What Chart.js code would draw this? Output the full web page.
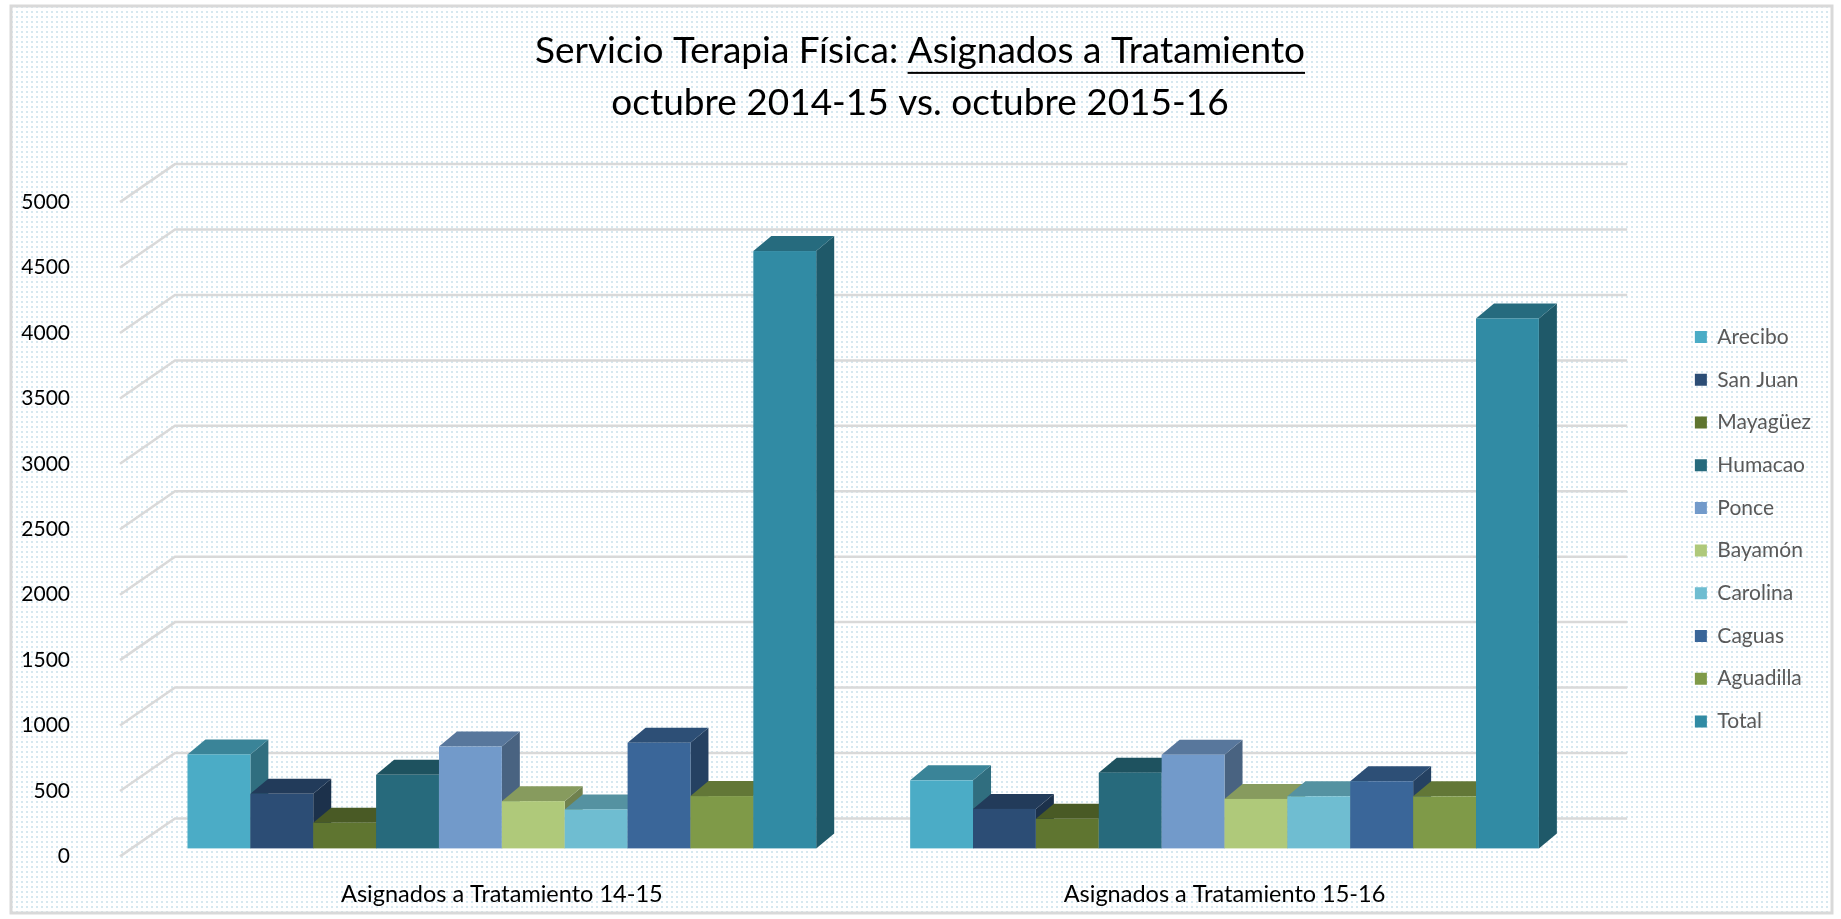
<!DOCTYPE html>
<html>
<head>
<meta charset="utf-8">
<script src="https://cdn.jsdelivr.net/npm/chart.js@4/dist/chart.umd.min.js"></script>
<style>
  html, body { margin: 0; padding: 0; background: #fff; }
</style>
</head>
<body>
<canvas id="myChart" width="1841" height="919"></canvas>
<script>
// categories on the x axis
const categories = ["Asignados a Tratamiento 14-15", "Asignados a Tratamiento 15-16"];

// one series per region (plus the total)
const regions = ["Arecibo", "San Juan", "Mayagüez", "Humacao", "Ponce", "Bayamón", "Carolina", "Caguas", "Aguadilla", "Total"];

// values, in the same order as regions
const asignados1415 = [718, 417, 196, 562, 778, 361, 298, 807, 400, 4565];
const asignados1516 = [520, 302, 226, 579, 716, 378, 398, 513, 398, 4050];

// value axis
const yTicks = [0, 500, 1000, 1500, 2000, 2500, 3000, 3500, 4000, 4500, 5000];

const colors = ["#4BACC6", "#2C4D75", "#5F7530", "#276A7C", "#729ACA", "#AFC97A", "#6FBDD1", "#3A6699", "#7F9A48", "#318BA4"];

// 3d look
const DEPTH = { dx: 18, dy: 15 };   // depth of a bar
const SHIFT = { x: 20, y: -8 };     // bars sit a bit behind the label plane
const WALL = { x: 55, y: -38 };     // back wall, where the grid lines run
const WALL_END = -46;               // right end of the wall grid, from chartArea.right

const shade = (hex, f) => {
  const n = parseInt(hex.slice(1), 16);
  const r = Math.round(((n >> 16) & 255) * f);
  const g = Math.round(((n >> 8) & 255) * f);
  const b = Math.round((n & 255) * f);
  return `rgb(${r},${g},${b})`;
};

const poly = (ctx, pts) => {
  ctx.beginPath();
  ctx.moveTo(pts[0][0], pts[0][1]);
  pts.slice(1).forEach(p => ctx.lineTo(p[0], p[1]));
  ctx.closePath();
  ctx.fill();
};

// dotted background
const dots = document.createElement("canvas");
dots.width = 5;
dots.height = 5;
const dctx = dots.getContext("2d");
dctx.fillStyle = "#d6e8f0";
dctx.fillRect(1, 1, 2, 2);

const backdrop = {
  id: "backdrop",
  beforeDraw(chart) {
    const { ctx, chartArea, scales } = chart;
    ctx.save();
    ctx.fillStyle = "#fff";
    ctx.fillRect(0, 0, chart.width, chart.height);
    ctx.fillStyle = ctx.createPattern(dots, "repeat");
    ctx.fillRect(11, 6, chart.width - 20, chart.height - 12);
    ctx.strokeStyle = "#d9d9d9";
    ctx.lineWidth = 3;
    ctx.strokeRect(11, 6, chart.width - 20, chart.height - 12);

    // wall grid lines with the slanted side-wall part
    ctx.strokeStyle = "#d9d9d9";
    ctx.lineWidth = 2.5;
    yTicks.forEach(v => {
      const y = scales.y.getPixelForValue(v);
      ctx.beginPath();
      ctx.moveTo(chartArea.left, y);
      ctx.lineTo(chartArea.left + WALL.x, y + WALL.y);
      ctx.lineTo(chartArea.right + WALL_END, y + WALL.y);
      ctx.stroke();
    });
    ctx.restore();
  }
};

const bars3d = {
  id: "bars3d",
  beforeDatasetsDraw(chart) {
    const ctx = chart.ctx;
    ctx.save();
    chart.data.datasets.forEach((ds, i) => {
      const meta = chart.getDatasetMeta(i);
      meta.data.forEach(bar => {
        const { x, y, base, width } = bar.getProps(["x", "y", "base", "width"], true);
        const l = x - width / 2 + SHIFT.x;
        const r = x + width / 2 + SHIFT.x;
        const t = y + SHIFT.y;
        const b = base + SHIFT.y;
        ctx.fillStyle = shade(ds.backgroundColor, 0.64);
        poly(ctx, [[r, t], [r + DEPTH.dx, t - DEPTH.dy], [r + DEPTH.dx, b - DEPTH.dy], [r, b]]);
        ctx.fillStyle = shade(ds.backgroundColor, 0.77);
        poly(ctx, [[l, t], [l + DEPTH.dx, t - DEPTH.dy], [r + DEPTH.dx, t - DEPTH.dy], [r, t]]);
        ctx.fillStyle = ds.backgroundColor;
        ctx.fillRect(l, t, r - l, b - t);
      });
    });
    ctx.restore();
    return false;
  }
};

// underline the second half of the first title line
const titleUnderline = {
  id: "titleUnderline",
  afterDraw(chart) {
    const tb = chart.titleBlock;
    const opts = tb.options;
    const size = opts.font.size;
    const lineHeight = size * opts.font.lineHeight;
    const ctx = chart.ctx;
    ctx.save();
    ctx.font = `normal ${size}px ${opts.font.family}`;
    const line = opts.text[0];
    const full = ctx.measureText(line).width;
    const pre = ctx.measureText("Servicio Terapia Física: ").width;
    const cx = (tb.left + tb.right) / 2;
    const y = tb.top + opts.padding.top + lineHeight / 2 + size * 0.55;
    ctx.fillStyle = opts.color;
    ctx.fillRect(cx - full / 2 + pre, y, full - pre, 2);
    ctx.restore();
  }
};

const datasets = regions.map((name, i) => ({
  label: name,
  data: [
    { x: 0, y: asignados1415[i] },
    { x: 1, y: asignados1516[i] }
  ],
  backgroundColor: colors[i],
  borderWidth: 0
}));

const config = {
  type: "bar",
  data: { datasets },
  plugins: [backdrop, bars3d, titleUnderline],
  options: {
    responsive: false,
    animation: false,
    devicePixelRatio: 1,
    layout: { padding: { left: 19, right: 20, top: 0, bottom: 0 } },
    datasets: { bar: { categoryPercentage: 0.87, barPercentage: 1.0 } },
    scales: {
      x: {
        type: "linear",
        offset: false,
        min: -0.5007,
        max: 1.6485,
        grid: { display: false },
        border: { display: false },
        ticks: {
          stepSize: 1,
          includeBounds: false,
          autoSkip: false,
          maxRotation: 0,
          padding: 16,
          labelOffset: 20,
          color: "#000",
          font: { family: "Lato", size: 23.5 },
          callback: (v) => categories[v] ?? ""
        },
        afterFit: (s) => { s.height = 57; }
      },
      y: {
        min: yTicks[0],
        max: yTicks[yTicks.length - 1],
        grid: { display: false, drawTicks: false },
        border: { display: false },
        ticks: {
          stepSize: 500,
          padding: 50,
          color: "#000",
          font: { family: "Lato", size: 21 },
          callback: (v) => String(v)
        },
        afterFit: (s) => { s.width = 101; }
      }
    },
    plugins: {
      title: {
        display: true,
        text: ["Servicio Terapia Física: Asignados a Tratamiento", "octubre 2014-15 vs. octubre 2015-16"],
        color: "#000",
        font: { family: "Lato", size: 37, weight: "normal", lineHeight: 1.38 },
        padding: { top: 26, bottom: 74 }
      },
      legend: {
        position: "right",
        fullSize: false,
        align: "center",
        labels: {
          boxWidth: 12,
          boxHeight: 12,
          padding: 21.7,
          color: "#595959",
          font: { family: "Lato", size: 21 }
        }
      },
      tooltip: { enabled: false }
    }
  }
};

const ctx = document.getElementById("myChart");
const myChart = new Chart(ctx, config);
</script>
</body>
</html>
